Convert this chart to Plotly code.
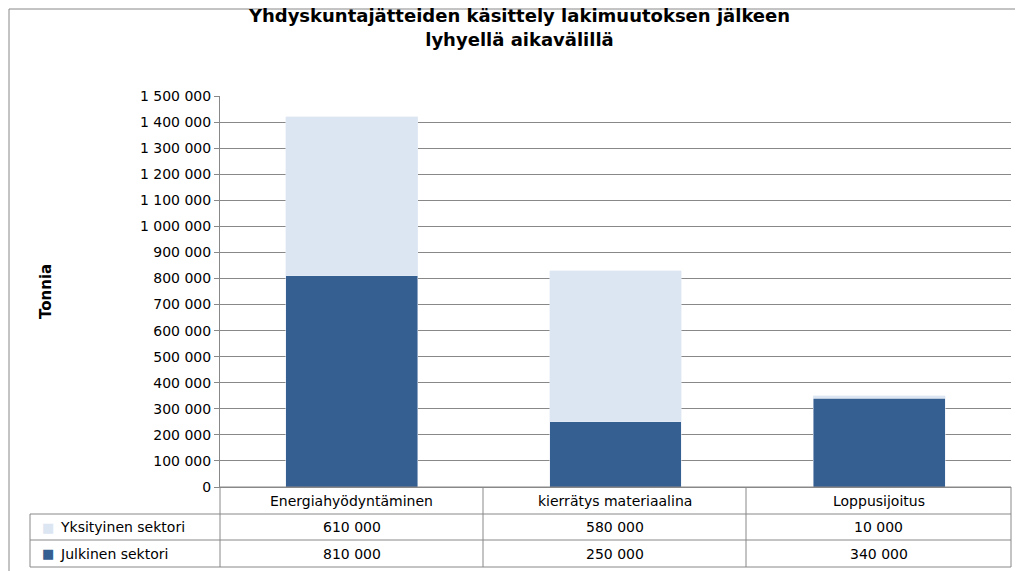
import plotly.graph_objects as go

categories = ['Energiahyödyntäminen', 'kierrätys materiaalina', 'Loppusijoitus']
julkinen = [810000, 250000, 340000]
yksityinen = [610000, 580000, 10000]
dark = '#365F91'
light = '#DCE6F2'

fig = go.Figure()
fig.add_trace(go.Bar(x=categories, y=julkinen, name='Julkinen sektori', marker_color=dark, width=0.5))
fig.add_trace(go.Bar(x=categories, y=yksityinen, name='Yksityinen sektori', marker_color=light, width=0.5))

font = dict(family='DejaVu Sans', size=14, color='black')
fig.update_layout(
    barmode='stack', width=1023, height=571, showlegend=False,
    margin=dict(l=212, r=20, t=88, b=92, autoexpand=False),
    plot_bgcolor='white', paper_bgcolor='white', font=font,
    separators=', ',
    title=dict(text='<b>Yhdyskuntajätteiden käsittely lakimuutoksen jälkeen<br>lyhyellä aikavälillä</b>',
               x=0.5, xanchor='center', yref='container', y=0.975, yanchor='top', font=dict(size=18)),
)
fig.update_xaxes(showticklabels=False, showline=True, linecolor='#888')
fig.update_yaxes(range=[0, 1500000], dtick=100000, tickformat=',d', showgrid=True,
                 gridcolor='#888', showline=True, linecolor='#888', ticks='outside',
                 tickcolor='#888', ticklen=5)

# data table
H = 391.0
W = 791.0
def py(p):
    return -(p - 479) / H
def px(p):
    return (p - 212) / W
line = dict(color='#888', width=1)
rows = [479, 506, 532, 559]
cols = [212, 475, 738, 1003]
for r in rows:
    x0 = 212 if r == 479 else 22
    fig.add_shape(type='line', xref='paper', yref='paper', x0=px(x0), x1=px(1003), y0=py(r), y1=py(r), line=line)
for c in cols:
    fig.add_shape(type='line', xref='paper', yref='paper', x0=px(c), x1=px(c), y0=py(479), y1=py(559), line=line)
fig.add_shape(type='line', xref='paper', yref='paper', x0=px(22), x1=px(22), y0=py(506), y1=py(559), line=line)
# outer border
fig.add_shape(type='rect', xref='paper', yref='paper', x0=px(1), x1=px(1022), y0=py(1), y1=py(570),
              line=dict(color='#888', width=1))

def ann(x, y, text, anchor='center', f=font, **kw):
    fig.add_annotation(x=x, y=y, xref='paper', yref='paper', text=text, showarrow=False,
                       xanchor=anchor, yanchor='middle', font=f, **kw)

for i, cat in enumerate(categories):
    xc = px((cols[i] + cols[i + 1]) / 2)
    ann(xc, py(492.5), cat)
    ann(xc, py(519), f'{yksityinen[i]:,}'.replace(',', ' '))
    ann(xc, py(545.5), f'{julkinen[i]:,}'.replace(',', ' '))

for yy, name, col in [(519, 'Yksityinen sektori', light), (545.5, 'Julkinen sektori', dark)]:
    ann(px(32), py(yy), '■', 'left', dict(size=13, color=col))
    ann(px(50), py(yy), name, 'left')

ann(px(38), py(284), '<b>Tonnia</b>', f=dict(family='DejaVu Sans', size=15), textangle=-90)

fig.write_html('out.html')
